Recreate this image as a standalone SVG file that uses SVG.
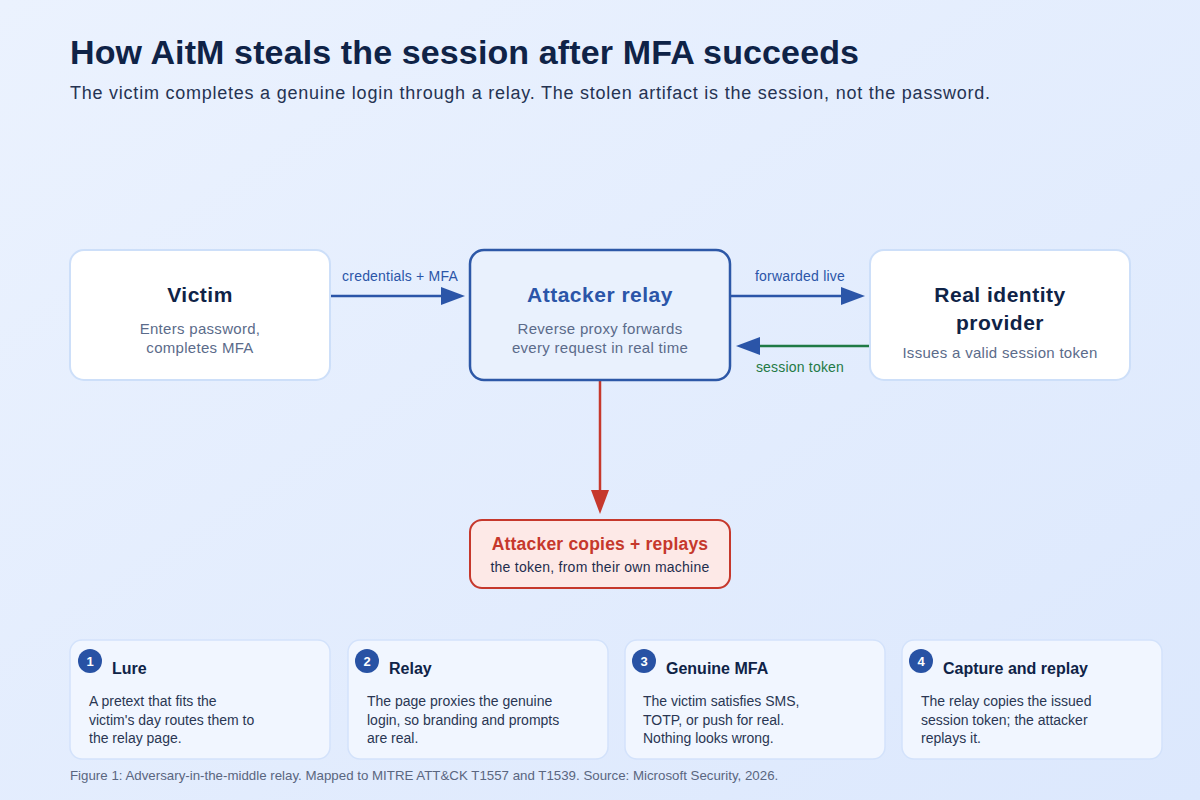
<svg xmlns="http://www.w3.org/2000/svg" width="1200" height="800" viewBox="0 0 1200 800">
  <defs>
    <linearGradient id="bg" x1="0" y1="0" x2="1" y2="1">
      <stop offset="0" stop-color="#ebf2fe"/>
      <stop offset="1" stop-color="#dce8fd"/>
    </linearGradient>
    <!-- arrowheads: tip sits 20px past the line end so the stroke stays hidden -->
    <marker id="arrowBlue" viewBox="0 0 24 18" refX="4" refY="9" markerWidth="24" markerHeight="18" markerUnits="userSpaceOnUse" orient="auto">
      <path d="M0,0 L24,9 L0,18 z" fill="#2b55a8"/>
    </marker>
    <marker id="arrowRed" viewBox="0 0 24 18" refX="4" refY="9" markerWidth="24" markerHeight="18" markerUnits="userSpaceOnUse" orient="auto">
      <path d="M0,0 L24,9 L0,18 z" fill="#c6382c"/>
    </marker>
    <style>
      text { font-family: "Liberation Sans", Arial, sans-serif; }
      .title { font-size: 34px; font-weight: bold; fill: #0f2347; }
      .subtitle { font-size: 18px; fill: #253352; }
      .box { fill: #ffffff; stroke: #cddff9; stroke-width: 2; }
      .relay { fill: #e9f1fd; stroke: #2d58a7; stroke-width: 2.5; }
      .danger { fill: #fde9e7; stroke: #c6382c; stroke-width: 2; }
      .ntitle { font-size: 21px; font-weight: bold; fill: #0f2347; text-anchor: middle; letter-spacing: 0.5px; }
      .nsub { font-size: 15px; fill: #5b6b8a; text-anchor: middle; letter-spacing: 0.3px; }
      .elabel { font-size: 14px; text-anchor: middle; letter-spacing: 0.2px; }
      .card { fill: #f1f6ff; stroke: #d3e2fb; stroke-width: 1.5; }
      .badge { fill: #2852a4; }
      .badgeText { font-size: 13px; font-weight: bold; fill: #ffffff; text-anchor: middle; }
      .ctitle { font-size: 16px; font-weight: bold; fill: #0f2347; }
      .cbody { font-size: 14px; fill: #2a3653; }
      .footer { font-size: 13.3px; fill: #5a6680; }
    </style>
  </defs>

  <rect width="1200" height="800" fill="url(#bg)"/>

  <text class="title" x="70" y="64" textLength="789" lengthAdjust="spacing">How AitM steals the session after MFA succeeds</text>
  <text class="subtitle" x="70" y="99" textLength="920" lengthAdjust="spacing">The victim completes a genuine login through a relay. The stolen artifact is the session, not the password.</text>

  <!-- connectors -->
  <g id="connectors">
    <line x1="330" y1="296" x2="445" y2="296" stroke="#2b55a8" stroke-width="2.5" marker-end="url(#arrowBlue)"/>
    <text class="elabel" x="400" y="281" fill="#2b55a8">credentials + MFA</text>
    <line x1="730" y1="296" x2="845" y2="296" stroke="#2b55a8" stroke-width="2.5" marker-end="url(#arrowBlue)"/>
    <text class="elabel" x="800" y="281" fill="#2b55a8">forwarded live</text>
    <line x1="870" y1="346" x2="756" y2="346" stroke="#1f7a45" stroke-width="2.5" marker-end="url(#arrowBlue)"/>
    <text class="elabel" x="800" y="372" fill="#1f7a45">session token</text>
    <line x1="600" y1="380" x2="600" y2="494" stroke="#c6382c" stroke-width="2.5" marker-end="url(#arrowRed)"/>
  </g>

  <!-- nodes -->
  <g id="victim">
    <rect class="box" x="70" y="250" width="260" height="130" rx="14"/>
    <text class="ntitle" x="200" y="302">Victim</text>
    <text class="nsub" x="200" y="334">Enters password,</text>
    <text class="nsub" x="200" y="353">completes MFA</text>
  </g>

  <g id="relay">
    <rect class="relay" x="470" y="250" width="260" height="130" rx="14"/>
    <text class="ntitle" x="600" y="302" style="fill:#2b55a8">Attacker relay</text>
    <text class="nsub" x="600" y="334">Reverse proxy forwards</text>
    <text class="nsub" x="600" y="353">every request in real time</text>
  </g>

  <g id="idp">
    <rect class="box" x="870" y="250" width="260" height="130" rx="14"/>
    <text class="ntitle" x="1000" y="302">Real identity</text>
    <text class="ntitle" x="1000" y="330">provider</text>
    <text class="nsub" x="1000" y="358">Issues a valid session token</text>
  </g>

  <g id="replay">
    <rect class="danger" x="470" y="520" width="260" height="68" rx="12"/>
    <text x="600" y="550" text-anchor="middle" font-size="17.5" font-weight="bold" letter-spacing="0.2" fill="#c6382c">Attacker copies + replays</text>
    <text x="600" y="572" text-anchor="middle" font-size="14" letter-spacing="0.25" fill="#1f2d4d">the token, from their own machine</text>
  </g>

  <!-- step cards -->
  <g id="step1">
    <rect class="card" x="70" y="640" width="260" height="119" rx="12"/>
    <circle class="badge" cx="90" cy="661" r="12"/>
    <text class="badgeText" x="90" y="666">1</text>
    <text class="ctitle" x="112" y="674">Lure</text>
    <text class="cbody" x="89" y="706">A pretext that fits the</text>
    <text class="cbody" x="89" y="724.5">victim's day routes them to</text>
    <text class="cbody" x="89" y="743">the relay page.</text>
  </g>

  <g id="step2">
    <rect class="card" x="348" y="640" width="260" height="119" rx="12"/>
    <circle class="badge" cx="367" cy="661" r="12"/>
    <text class="badgeText" x="367" y="666">2</text>
    <text class="ctitle" x="389" y="674">Relay</text>
    <text class="cbody" x="367" y="706">The page proxies the genuine</text>
    <text class="cbody" x="367" y="724.5">login, so branding and prompts</text>
    <text class="cbody" x="367" y="743">are real.</text>
  </g>

  <g id="step3">
    <rect class="card" x="625" y="640" width="260" height="119" rx="12"/>
    <circle class="badge" cx="644" cy="661" r="12"/>
    <text class="badgeText" x="644" y="666">3</text>
    <text class="ctitle" x="666" y="674">Genuine MFA</text>
    <text class="cbody" x="643" y="706">The victim satisfies SMS,</text>
    <text class="cbody" x="643" y="724.5">TOTP, or push for real.</text>
    <text class="cbody" x="643" y="743">Nothing looks wrong.</text>
  </g>

  <g id="step4">
    <rect class="card" x="902" y="640" width="260" height="119" rx="12"/>
    <circle class="badge" cx="921" cy="661" r="12"/>
    <text class="badgeText" x="921" y="666">4</text>
    <text class="ctitle" x="943" y="674">Capture and replay</text>
    <text class="cbody" x="921" y="706">The relay copies the issued</text>
    <text class="cbody" x="921" y="724.5">session token; the attacker</text>
    <text class="cbody" x="921" y="743">replays it.</text>
  </g>

  <text class="footer" x="70" y="780">Figure 1: Adversary-in-the-middle relay. Mapped to MITRE ATT&amp;CK T1557 and T1539. Source: Microsoft Security, 2026.</text>
</svg>
